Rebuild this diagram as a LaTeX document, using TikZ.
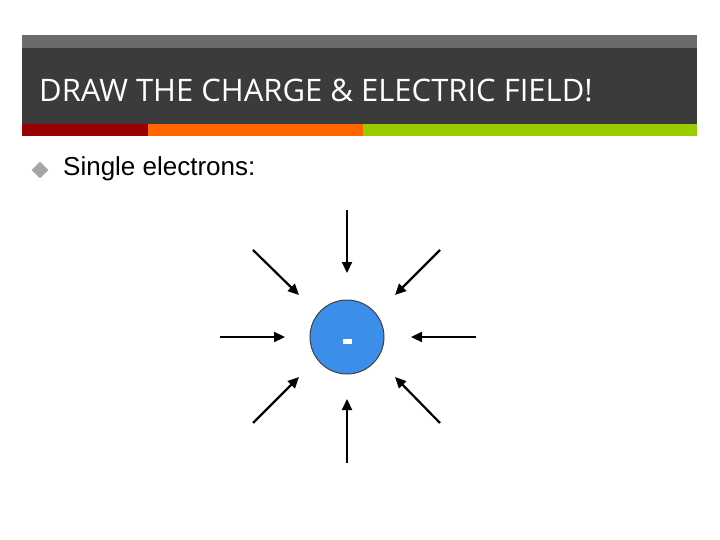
\documentclass[tikz,border=0pt]{standalone}
\usepackage{fontspec}
\setmainfont{Liberation Sans}
\newfontfamily\titlefont{Open Sans}
\usetikzlibrary{arrows.meta}
\definecolor{bar}{HTML}{3B3B3B}
\definecolor{topgray}{HTML}{6B6B6B}
\definecolor{cred}{HTML}{990000}
\definecolor{corange}{HTML}{FF6600}
\definecolor{cgreen}{HTML}{99CC00}
\definecolor{eblue}{HTML}{3B8EEA}
\tikzset{fieldarrow/.style={line width=2.2pt,-{Triangle[length=11pt,width=10pt]}}}
\begin{document}
\begin{tikzpicture}[x=1pt,y=-1pt]
\useasboundingbox (0,0) rectangle (720,540);
\fill[topgray] (22,35) rectangle (697,48);
\fill[bar] (22,48) rectangle (697,124);
\fill[cred] (22,124) rectangle (148,136);
\fill[corange] (148,124) rectangle (363,136);
\fill[cgreen] (363,124) rectangle (697,136);
\node[anchor=west,text=white,font=\titlefont\fontsize{31}{36}\selectfont,inner sep=0] (title) at (39,90) {DRAW THE CHARGE \& ELECTRIC FIELD!};
\node[fill=gray!70,minimum size=12pt,rotate=45,inner sep=0] (bullet) at (40,170) {};
\node[anchor=west,font=\fontsize{26}{30}\selectfont,inner sep=0] (txt) at (63,169) {Single electrons:};
\node[circle,fill=eblue,draw=black!75,line width=1pt,minimum size=74pt,inner sep=0] (e) at (347,337) {};
\fill[white] (343,339) rectangle (352,344);
\coordinate (t1) at (347,210); \coordinate (t2) at (347,273);
\coordinate (b1) at (347,463); \coordinate (b2) at (347,399);
\coordinate (l1) at (220,337); \coordinate (l2) at (285,337);
\coordinate (r1) at (476,337); \coordinate (r2) at (411,337);
\coordinate (tl1) at (253,250); \coordinate (tl2) at (299,295);
\coordinate (tr1) at (440,250); \coordinate (tr2) at (395,295);
\coordinate (bl1) at (253,423); \coordinate (bl2) at (299,377);
\coordinate (br1) at (440,423); \coordinate (br2) at (395,377);
\foreach \a in {t,b,l,r,tl,tr,bl,br} \draw[fieldarrow] (\a1) -- (\a2);
\end{tikzpicture}
\end{document}
